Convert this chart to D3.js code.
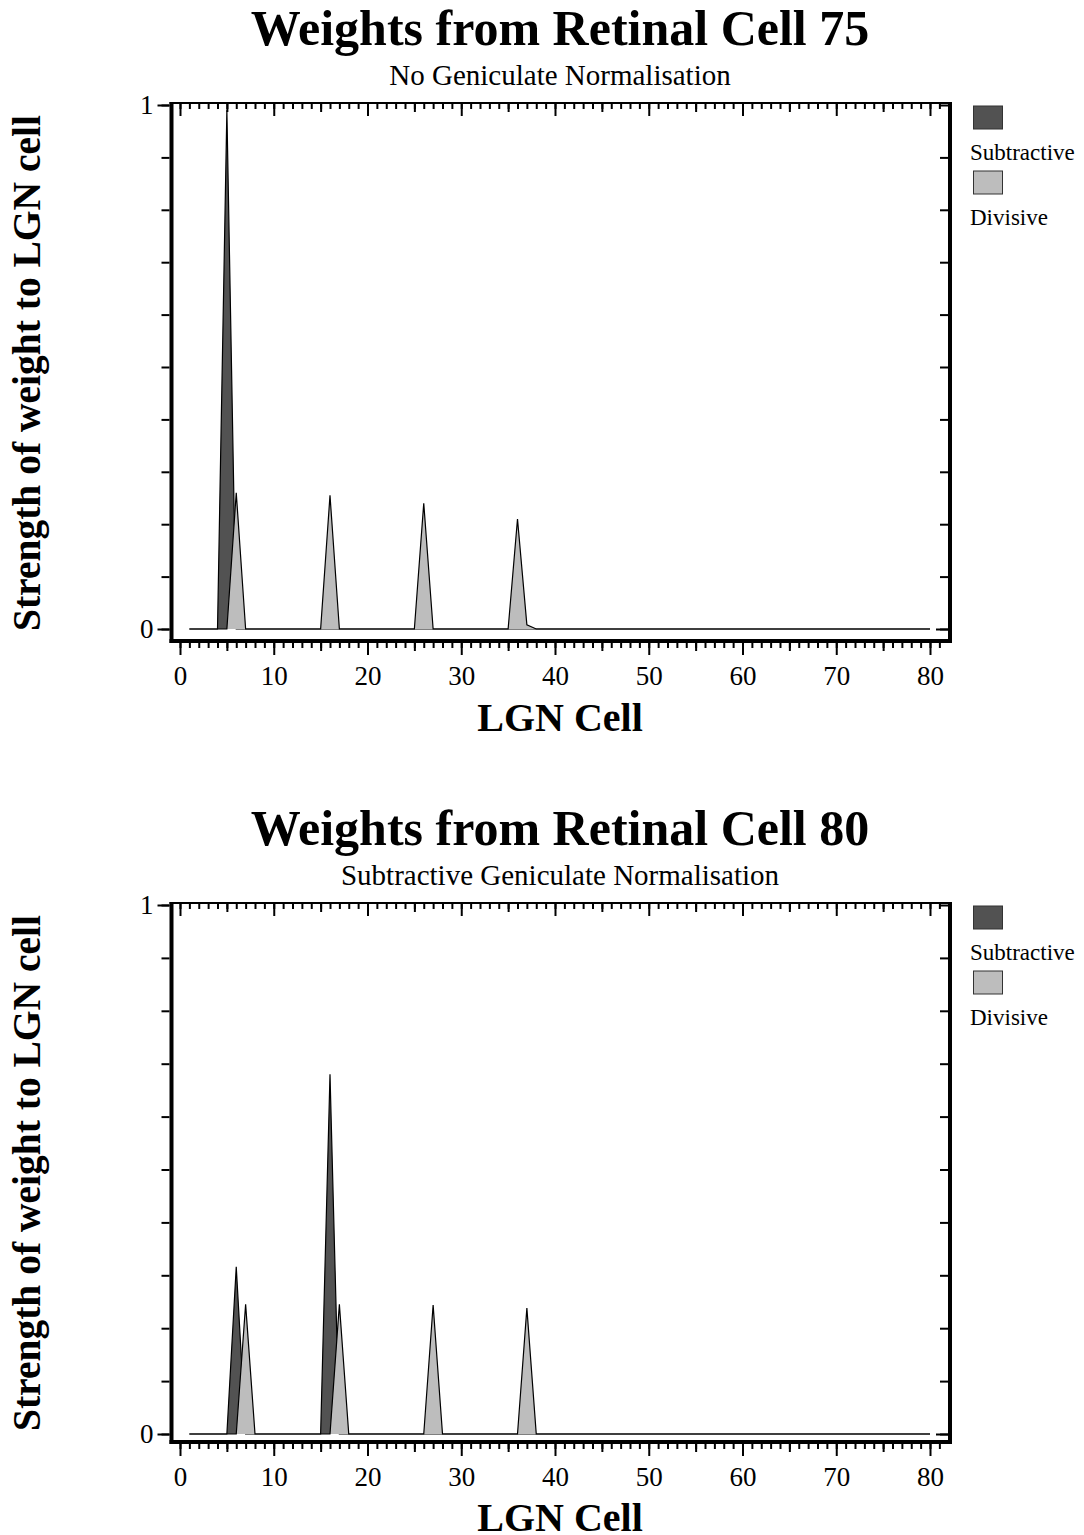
<!DOCTYPE html>
<html>
<head>
<meta charset="utf-8">
<script src="https://cdn.jsdelivr.net/npm/d3@7"></script>
<style>
  html, body { margin: 0; padding: 0; background: #fff; }
  svg { display: block; }
  text { font-family: "Liberation Serif", "Times New Roman", serif; fill: #000; }
</style>
</head>
<body>
<svg id="chart" width="1084" height="1535"></svg>
<script>
// ---------- DATA ----------
const lgnCells = d3.range(1, 81);          // LGN cell index 1..80
const xTickLabels = [0, 10, 20, 30, 40, 50, 60, 70, 80];
const yTickLabels = [0, 1];
const seriesNames = ["Subtractive", "Divisive"];
const chartTitles = ["Weights from Retinal Cell 75", "Weights from Retinal Cell 80"];
const chartSubtitles = ["No Geniculate Normalisation", "Subtractive Geniculate Normalisation"];

// Chart 1 (Retinal cell 75)
const cell75Subtractive = [
  0, 0, 0, 0, 0.99, 0, 0, 0, 0, 0,
  0, 0, 0, 0, 0, 0, 0, 0, 0, 0,
  0, 0, 0, 0, 0, 0, 0, 0, 0, 0,
  0, 0, 0, 0, 0, 0, 0, 0, 0, 0,
  0, 0, 0, 0, 0, 0, 0, 0, 0, 0,
  0, 0, 0, 0, 0, 0, 0, 0, 0, 0,
  0, 0, 0, 0, 0, 0, 0, 0, 0, 0,
  0, 0, 0, 0, 0, 0, 0, 0, 0, 0
];
const cell75Divisive = [
  0, 0, 0, 0, 0, 0.26, 0, 0, 0, 0,
  0, 0, 0, 0, 0, 0.255, 0, 0, 0, 0,
  0, 0, 0, 0, 0, 0.24, 0, 0, 0, 0,
  0, 0, 0, 0, 0, 0.21, 0.008, 0, 0, 0,
  0, 0, 0, 0, 0, 0, 0, 0, 0, 0,
  0, 0, 0, 0, 0, 0, 0, 0, 0, 0,
  0, 0, 0, 0, 0, 0, 0, 0, 0, 0,
  0, 0, 0, 0, 0, 0, 0, 0, 0, 0
];

// Chart 2 (Retinal cell 80)
const cell80Subtractive = [
  0, 0, 0, 0, 0, 0.316, 0, 0, 0, 0,
  0, 0, 0, 0, 0, 0.68, 0, 0, 0, 0,
  0, 0, 0, 0, 0, 0, 0, 0, 0, 0,
  0, 0, 0, 0, 0, 0, 0, 0, 0, 0,
  0, 0, 0, 0, 0, 0, 0, 0, 0, 0,
  0, 0, 0, 0, 0, 0, 0, 0, 0, 0,
  0, 0, 0, 0, 0, 0, 0, 0, 0, 0,
  0, 0, 0, 0, 0, 0, 0, 0, 0, 0
];
const cell80Divisive = [
  0, 0, 0, 0, 0, 0, 0.245, 0, 0, 0,
  0, 0, 0, 0, 0, 0, 0.245, 0, 0, 0,
  0, 0, 0, 0, 0, 0, 0.244, 0, 0, 0,
  0, 0, 0, 0, 0, 0, 0.238, 0, 0, 0,
  0, 0, 0, 0, 0, 0, 0, 0, 0, 0,
  0, 0, 0, 0, 0, 0, 0, 0, 0, 0,
  0, 0, 0, 0, 0, 0, 0, 0, 0, 0,
  0, 0, 0, 0, 0, 0, 0, 0, 0, 0
];

// ---------- LAYOUT / STYLE ----------
const colors = { Subtractive: "#525252", Divisive: "#bdbdbd" };
const charts = [
  { title: chartTitles[0], subtitle: chartSubtitles[0], off: 0,   yZero: 629,  yOne: 105, frameTop: 103, frameBottom: 641,
    series: [cell75Subtractive, cell75Divisive] },
  { title: chartTitles[1], subtitle: chartSubtitles[1], off: 800, yZero: 1434, yOne: 905, frameTop: 903, frameBottom: 1442,
    series: [cell80Subtractive, cell80Divisive] }
];

const svg = d3.select("#chart");
const x = d3.scaleLinear().domain([0, 80]).range([180, 930]);
const frameLeft = 171.5, frameRight = 950;

const minorX = d3.range(0, 82, 1);
const midX = d3.range(5, 80, 10);
const yMinor = d3.range(0, 1.01, 0.1);

charts.forEach(c => {
  const g = svg.append("g");
  const y = d3.scaleLinear().domain([0, 1]).range([c.yZero, c.yOne]);

  // Titles
  g.append("text").attr("x", 560).attr("y", c.off + 45)
    .attr("text-anchor", "middle").attr("font-size", 50).attr("font-weight", "bold")
    .text(c.title);
  g.append("text").attr("x", 560).attr("y", c.off + 85)
    .attr("text-anchor", "middle").attr("font-size", 29)
    .text(c.subtitle);

  // Series areas (subtractive first, divisive on top)
  c.series.forEach((vals, i) => {
    const pts = lgnCells.map((cell, k) => [cell, vals[k]]);
    const area = d3.area().x(d => x(d[0])).y0(y(0)).y1(d => y(d[1]));
    const line = d3.line().x(d => x(d[0])).y(d => y(d[1]));
    g.append("path").attr("d", area(pts))
      .attr("fill", colors[seriesNames[i]]).attr("stroke", "none");
    g.append("path").attr("d", line(pts))
      .attr("fill", "none").attr("stroke", "#000").attr("stroke-width", 1.2)
      .attr("stroke-linejoin", "miter");
  });

  // Frame
  g.append("line").attr("x1", frameLeft - 2).attr("x2", frameRight + 2)
    .attr("y1", c.frameTop).attr("y2", c.frameTop).attr("stroke", "#000").attr("stroke-width", 2);
  g.append("line").attr("x1", frameLeft - 2).attr("x2", frameRight + 2)
    .attr("y1", c.frameBottom).attr("y2", c.frameBottom).attr("stroke", "#000").attr("stroke-width", 4);
  g.append("line").attr("x1", frameLeft).attr("x2", frameLeft)
    .attr("y1", c.frameTop - 1).attr("y2", c.frameBottom + 2).attr("stroke", "#000").attr("stroke-width", 4);
  g.append("line").attr("x1", frameRight).attr("x2", frameRight)
    .attr("y1", c.frameTop - 1).attr("y2", c.frameBottom + 2).attr("stroke", "#000").attr("stroke-width", 4);

  const clean = sel => { sel.select(".domain").remove(); sel.selectAll(".tick line").attr("stroke-width", 2); };

  // Bottom x ticks (outside)
  const by = c.frameBottom + 2;
  g.append("g").attr("transform", `translate(0,${by})`)
    .call(d3.axisBottom(x).tickValues(minorX).tickSize(5).tickFormat("")).call(clean);
  g.append("g").attr("transform", `translate(0,${by})`)
    .call(d3.axisBottom(x).tickValues(midX).tickSize(8).tickFormat("")).call(clean);
  const xl = g.append("g").attr("transform", `translate(0,${by})`)
    .call(d3.axisBottom(x).tickValues(xTickLabels).tickSize(12).tickPadding(11).tickFormat(d3.format("d")))
    .call(clean);
  xl.selectAll("text").attr("font-size", 27).attr("dy", "0.71em");

  // Top x ticks (inside, hanging down)
  const ty = c.frameTop + 1;
  g.append("g").attr("transform", `translate(0,${ty})`)
    .call(d3.axisBottom(x).tickValues(minorX).tickSize(5).tickFormat("")).call(clean);
  g.append("g").attr("transform", `translate(0,${ty})`)
    .call(d3.axisBottom(x).tickValues(midX).tickSize(8).tickFormat("")).call(clean);
  g.append("g").attr("transform", `translate(0,${ty})`)
    .call(d3.axisBottom(x).tickValues(xTickLabels).tickSize(12).tickFormat("")).call(clean);

  // Left y ticks (outside)
  const lx = frameLeft - 2;
  g.append("g").attr("transform", `translate(${lx},0)`)
    .call(d3.axisLeft(y).tickValues(yMinor).tickSize(8).tickFormat("")).call(clean);
  const yl = g.append("g").attr("transform", `translate(${lx},0)`)
    .call(d3.axisLeft(y).tickValues(yTickLabels).tickSize(12).tickPadding(4).tickFormat(d3.format("d")))
    .call(clean);
  yl.selectAll("text").attr("font-size", 27);

  // Right y ticks (inside)
  const rx = frameRight - 2;
  g.append("g").attr("transform", `translate(${rx},0)`)
    .call(d3.axisLeft(y).tickValues(yMinor).tickSize(8).tickFormat("")).call(clean);
  g.append("g").attr("transform", `translate(${rx},0)`)
    .call(d3.axisLeft(y).tickValues([0]).tickSize(12).tickFormat("")).call(clean);

  // Axis titles
  g.append("text").attr("x", 560).attr("y", c.off + 731)
    .attr("text-anchor", "middle").attr("font-size", 40).attr("font-weight", "bold")
    .text("LGN Cell");
  g.append("text")
    .attr("transform", `translate(40,${c.off + 373}) rotate(-90)`)
    .attr("text-anchor", "middle").attr("font-size", 39.5).attr("font-weight", "bold")
    .text("Strength of weight to LGN cell");

  // Legend
  seriesNames.forEach((name, i) => {
    const ly = c.off + 106 + i * 65;
    g.append("rect").attr("x", 973.5).attr("y", ly).attr("width", 29).attr("height", 23)
      .attr("fill", colors[name]).attr("stroke", "#333").attr("stroke-width", 1);
    g.append("text").attr("x", 970).attr("y", ly + 54)
      .attr("font-size", 23).text(name);
  });
});
</script>
</body>
</html>
